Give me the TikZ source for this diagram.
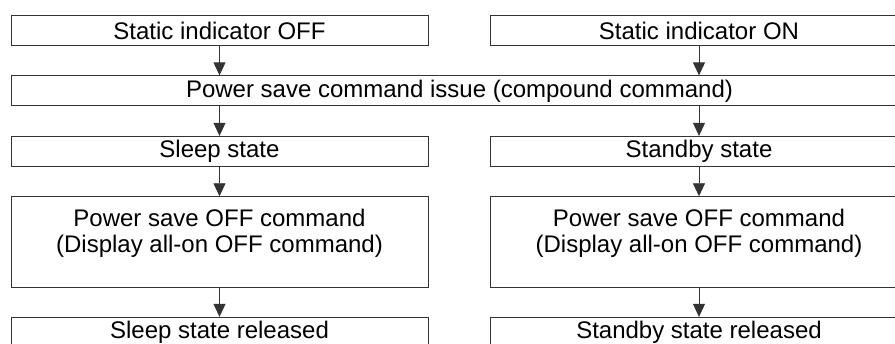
\documentclass[tikz,border=0pt]{standalone}
\usepackage{fontspec}
\setmainfont{Liberation Sans}
\usetikzlibrary{arrows.meta}
\begin{document}
\begin{tikzpicture}[x=1pt,y=-1pt,
  box/.style={draw=black!80, line width=0.9pt, minimum height=30pt, inner sep=0pt,
    font=\fontsize{24}{27}\selectfont},
  lbox/.style={box, minimum width=417pt},
  rbox/.style={box, minimum width=418pt},
  wbox/.style={box, minimum width=897pt},
  tbox/.style={box, minimum height=90.6pt},
  txt/.style={inner sep=0pt, align=center, font=\fontsize{24}{26}\selectfont},
  flow/.style={draw=black!80, line width=0.9pt, -{Triangle[width=12pt,length=13pt]}}]
\useasboundingbox (0,0) rectangle (895,343);
\clip (0,0) rectangle (895,343);
% row 1
\node[lbox] (s1) at (219.5,30.7) {Static indicator OFF};
\node[rbox] (s2) at (699,30.7) {Static indicator ON};
% row 2
\node[wbox] (ps) at (459.5,90.8) {Power save command issue (compound command)};
% row 3
\node[lbox] (sl) at (219.5,151.3) {Sleep state};
\node[rbox] (sb) at (699,151.3) {Standby state};
% row 4
\node[lbox, tbox] (o1) at (219.5,242) {};
\node[rbox, tbox] (o2) at (699,242) {};
\node[txt] (t1) at ([yshift=9pt]o1.center) {Power save OFF command\\(Display all-on OFF command)};
\node[txt] (t2) at ([yshift=9pt]o2.center) {Power save OFF command\\(Display all-on OFF command)};
% row 5
\node[lbox] (r1) at (219.5,332.3) {Sleep state released};
\node[rbox] (r2) at (699,332.3) {Standby state released};
% arrows
\draw[flow] (s1.south) -- (s1.south |- ps.north);
\draw[flow] (s2.south) -- (s2.south |- ps.north);
\draw[flow] (sl.north |- ps.south) -- (sl.north);
\draw[flow] (sb.north |- ps.south) -- (sb.north);
\draw[flow] (sl.south) -- (o1.north);
\draw[flow] (sb.south) -- (o2.north);
\draw[flow] (o1.south) -- (r1.north);
\draw[flow] (o2.south) -- (r2.north);
\end{tikzpicture}
\end{document}
